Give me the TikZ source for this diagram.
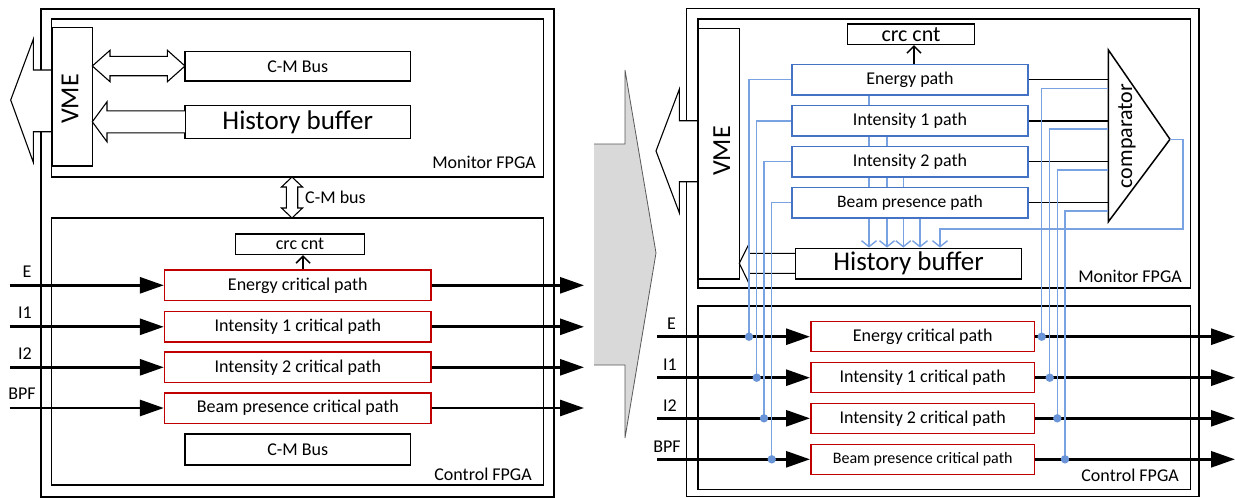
\documentclass[tikz,border=0pt]{standalone}
\usepackage{fontspec}
\setmainfont{Carlito}
\usetikzlibrary{arrows.meta,backgrounds,calc}
\definecolor{critred}{RGB}{192,0,0}
\definecolor{pathblue}{RGB}{68,114,196}
\definecolor{tapblue}{RGB}{120,162,225}
\definecolor{dotblue}{RGB}{105,148,215}
\definecolor{bigarrowgray}{RGB}{217,217,217}

\tikzset{
  fpgaframe/.style={draw=black, line width=1.5pt, inner sep=0pt},
  blk/.style={draw=black, line width=1.5pt, fill=white, inner sep=0pt, font=\fontsize{18}{21}\selectfont},
  crit/.style={blk, draw=critred},
  pbox/.style={blk, draw=pathblue},
  txt/.style={inner sep=0pt, font=\fontsize{18}{21}\selectfont},
  bigtxt/.style={font=\fontsize{27}{32}\selectfont},
  vmetxt/.style={inner sep=0pt, rotate=90, font=\fontsize{26}{30}\selectfont},
  sig/.style={line width=2.8pt, -{Triangle[length=24pt,width=16pt]}},
  wire/.style={line width=1.5pt},
  barb/.style={-{Straight Barb[length=7pt,width=14pt]}},
  tapline/.style={draw=tapblue, line width=1.4pt},
  downbarb/.style={-{Straight Barb[length=6pt,width=15pt]}},
  tapdot/.style={fill=dotblue},
  hollow/.style={draw=black, line width=1.1pt, fill=white, line join=miter},
  hollowopen/.style={draw=black, line width=1.1pt, line join=miter},
}

\begin{document}
\begin{tikzpicture}[x=1pt,y=-1pt]
\useasboundingbox (0,0) rectangle (1235,498);

% ================= left: control / monitor board =================
\node[fpgaframe, minimum width=513pt, minimum height=488pt] (outL) at (297.5,253) {};
\node[fpgaframe, minimum width=492pt, minimum height=158pt] (monL) at (297.5,98) {};
\node[fpgaframe, minimum width=492pt, minimum height=267pt] (ctlL) at (297.5,351.5) {};

% VME interface towards the crate
\draw[hollow] (51.7,70) -- (33.3,70) -- (33.3,39.3) -- (10.7,100) -- (33.3,162.3) -- (33.3,131.7) -- (51.7,131.7);
\node[blk, minimum width=40.6pt, minimum height=138.7pt] (vmeL) at (72.3,96.7) {};
\node[vmetxt] at (70,99) {VME};

\node[blk, minimum width=225.8pt, minimum height=29.3pt] (cmbL) at (297.7,66.3) {C-M Bus};
\node[blk, bigtxt, minimum width=225.8pt, minimum height=33pt] (hbL) at (297.7,121.8) {History buffer};
\node[txt, anchor=east] at (536,162) {Monitor FPGA};

% VME <-> C-M Bus
\draw[hollow] (92.3,66) -- (110,50.3) -- (110,56.3) -- (167.4,56.3) -- (167.4,50.3) -- (185,66)
  -- (167.4,81.7) -- (167.4,75.7) -- (110,75.7) -- (110,81.7) -- cycle;
% History buffer -> VME
\draw[hollow] (184.8,110.8) -- (107,110.8) -- (107,101.8) -- (92.3,121.8) -- (107,141.8) -- (107,132.8) -- (184.8,132.8);

% monitor <-> control bus
\draw[hollow] (292,177) -- (302.5,187) -- (297.7,187) -- (297.7,208) -- (302.5,208) -- (292,218)
  -- (281.5,208) -- (286.3,208) -- (286.3,187) -- (281.5,187) -- cycle;
\node[txt, anchor=west] at (305,197) {C-M bus};

% control FPGA content
\node[blk, minimum width=128.6pt, minimum height=20.3pt] (crcL) at (300,244.2) {crc cnt};
\node[crit, minimum width=266.4pt, minimum height=30.5pt] (ecL) at (297.8,285.3) {Energy critical path};
\node[crit, minimum width=266.4pt, minimum height=30.5pt] (i1L) at (297.8,326.8) {Intensity 1 critical path};
\node[crit, minimum width=266.4pt, minimum height=30.5pt] (i2L) at (297.8,367.3) {Intensity 2 critical path};
\node[crit, minimum width=266.4pt, minimum height=30.5pt] (bpL) at (297.8,408) {Beam presence critical path};
\node[blk, minimum width=225.8pt, minimum height=31pt] (cmb2L) at (297.7,449.5) {C-M Bus};
\node[txt, anchor=east] at (532,474) {Control FPGA};

\coordinate (cL) at ([xshift=5.3pt]ecL.north);
\draw[wire, barb] (cL) -- (cL |- crcL.south);

\coordinate (sigStartL) at (9.6,0);
\coordinate (sigEndL) at (584,0);
\foreach \b in {ecL,i1L,i2L,bpL}{
  \draw[sig] (sigStartL |- \b.west) -- (\b.west);
  \draw[sig] (\b.east) -- (sigEndL |- \b.east);
}
\node[txt] at (27,272) {E};
\node[txt] at (25,313) {I1};
\node[txt] at (25,354) {I2};
\node[txt] at (22,394) {BPF};

% ================= transition arrow =================
\fill[bigarrowgray] (594,144) -- (625,144) -- (625,70) -- (656,253) -- (625,438) -- (625,365) -- (594,365) -- cycle;
\draw[black!65, line width=0.8pt] (594,144) -- (625,144) -- (625,70) -- (656,253) -- (625,438) -- (625,365) -- (594,365);

% ================= right: with monitoring paths =================
\node[fpgaframe, minimum width=512.5pt, minimum height=488.4pt] (outR) at (942.75,252.5) {};
\node[fpgaframe, minimum width=492.7pt, minimum height=269pt] (monR) at (944.35,153.5) {};
\node[fpgaframe, minimum width=492.3pt, minimum height=183.3pt] (ctlR) at (944.15,397.65) {};

\draw[hollow] (698,120.7) -- (679.3,120.7) -- (679.3,89.3) -- (656,151) -- (679.3,212.7) -- (679.3,181.7) -- (698,181.7);
\node[blk, minimum width=41.3pt, minimum height=250.7pt] (vmeR) at (718.7,153.7) {};
\node[vmetxt] at (721.7,151) {VME};

\node[blk, minimum width=127.4pt, minimum height=20.3pt, font=\fontsize{22}{26}\selectfont] (crcR) at (911,34.2) {crc cnt};
\node[pbox, minimum width=235.6pt, minimum height=30.5pt] (ep) at (910,79.7) {Energy path};
\node[pbox, minimum width=235.6pt, minimum height=30.5pt] (i1p) at (910,120.8) {Intensity 1 path};
\node[pbox, minimum width=235.6pt, minimum height=30.5pt] (i2p) at (910,161.7) {Intensity 2 path};
\node[pbox, minimum width=235.6pt, minimum height=30.5pt, font=\fontsize{17.5}{20}\selectfont] (bpp) at (910,202.5) {Beam presence path};
\node[blk, bigtxt, minimum width=225.8pt, minimum height=30.7pt] (hbR) at (908.5,263.7) {History buffer};
\node[txt, anchor=east] at (1182,276) {Monitor FPGA};

\coordinate (cR) at ([xshift=4pt]ep.north);
\draw[wire, barb] (cR) -- (cR |- crcR.south);

% comparator
\coordinate (cmpTop) at (1108.4,50);
\coordinate (cmpBot) at (1108.4,221.7);
\coordinate (cmpTip) at (1170,139.3);
\draw[wire, line join=miter] (cmpTop) -- (cmpTip) -- (cmpBot) -- cycle;
\node[inner sep=0pt, rotate=90, font=\fontsize{22}{26}\selectfont] at (1127,136) {comparator};
\foreach \b in {ep,i1p,i2p,bpp}{
  \draw[wire] (\b.east) -- (\b.east -| cmpTop);
}

% history buffer -> VME
\draw[hollowopen] (795.6,253.3) -- (749.3,253.3) -- (749.3,243.3) -- (739.3,263.3) -- (749.3,284) -- (749.3,273.3) -- (795.6,273.3);

% control FPGA content
\node[crit, minimum width=223.9pt, minimum height=30pt] (ecR) at (922.7,336.7) {Energy critical path};
\node[crit, minimum width=223.9pt, minimum height=30pt] (i1R) at (922.7,377.7) {Intensity 1 critical path};
\node[crit, minimum width=223.9pt, minimum height=30pt] (i2R) at (922.7,418.3) {Intensity 2 critical path};
\node[crit, minimum width=223.9pt, minimum height=30pt, font=\fontsize{16}{19}\selectfont] (bpR) at (922.7,459.3) {Beam presence critical path};
\node[txt, anchor=east] at (1179,475) {Control FPGA};

\coordinate (sigStartR) at (657,0);
\coordinate (sigEndR) at (1235,0);
\foreach \b in {ecR,i1R,i2R,bpR}{
  \draw[sig] (sigStartR |- \b.west) -- (\b.west);
  \draw[sig] (\b.east) -- (sigEndR |- \b.east);
}
\node[txt] at (671.5,324) {E};
\node[txt] at (670,365) {I1};
\node[txt] at (670,406) {I2};
\node[txt] at (667,447) {BPF};

% monitoring paths fed from the critical-path inputs
\coordinate (lt1) at (749,0);
\coordinate (lt2) at (756.7,0);
\coordinate (lt3) at (764,0);
\coordinate (lt4) at (771.7,0);
\draw[tapline] (ep.west) -| (lt1 |- ecR.west);
\draw[tapline] (i1p.west) -| (lt2 |- i1R.west);
\draw[tapline] (i2p.west) -| (lt3 |- i2R.west);
\draw[tapline] (bpp.west) -| (lt4 |- bpR.west);
\fill[tapdot] (lt1 |- ecR.west) circle (4.2pt);
\fill[tapdot] (lt2 |- i1R.west) circle (4.2pt);
\fill[tapdot] (lt3 |- i2R.west) circle (4.2pt);
\fill[tapdot] (lt4 |- bpR.west) circle (4.2pt);

% comparator reference inputs from the critical-path outputs
\coordinate (ci1) at (1108.4,88.3);
\coordinate (ci2) at (1108.4,129);
\coordinate (ci3) at (1108.4,170);
\coordinate (ci4) at (1108.4,211);
\coordinate (rt1) at (1041.7,0);
\coordinate (rt2) at (1049.7,0);
\coordinate (rt3) at (1057.3,0);
\coordinate (rt4) at (1065,0);
\draw[tapline] (ci1) -| (rt1 |- ecR.east);
\draw[tapline] (ci2) -| (rt2 |- i1R.east);
\draw[tapline] (ci3) -| (rt3 |- i2R.east);
\draw[tapline] (ci4) -| (rt4 |- bpR.east);
\fill[tapdot] (rt1 |- ecR.east) circle (4.2pt);
\fill[tapdot] (rt2 |- i1R.east) circle (4.2pt);
\fill[tapdot] (rt3 |- i2R.east) circle (4.2pt);
\fill[tapdot] (rt4 |- bpR.east) circle (4.2pt);

% path outputs and comparator result into the history buffer
\coordinate (d1) at (869,0);
\coordinate (d2) at (887,0);
\coordinate (d3) at (903.3,0);
\coordinate (d4) at (920,0);
\coordinate (d5) at (940,229);
\begin{pgfonlayer}{background}
  \draw[tapline, downbarb] (d1 |- ep.south) -- (d1 |- hbR.north);
  \draw[tapline, downbarb] (d2 |- i1p.south) -- (d2 |- hbR.north);
  \draw[tapline, downbarb] (d3 |- i2p.south) -- (d3 |- hbR.north);
  \draw[tapline, downbarb] (d4 |- bpp.south) -- (d4 |- hbR.north);
\end{pgfonlayer}
\draw[tapline, downbarb] (cmpTip) -- ++(13,0) |- (d5) -- (d5 |- hbR.north);

\end{tikzpicture}
\end{document}
